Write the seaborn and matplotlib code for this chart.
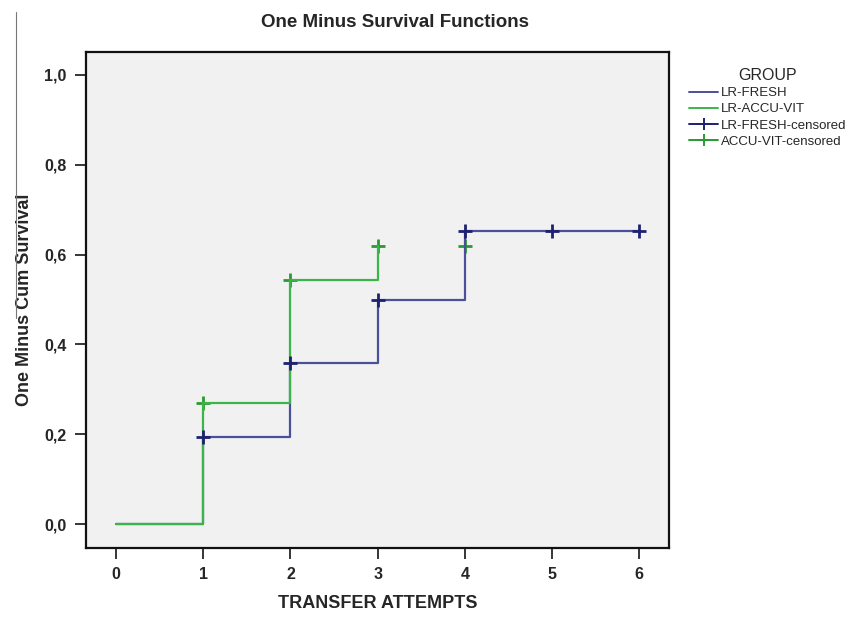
import matplotlib
matplotlib.use("Agg")
import matplotlib.pyplot as plt
from matplotlib.lines import Line2D
import numpy as np
import pandas as pd
import seaborn as sns

# step curves (one minus cumulative survival)
fresh_time = [0, 1, 2, 3, 4, 6]
fresh_value = [0.0, 0.194, 0.359, 0.500, 0.652, 0.652]
accu_time = [0, 1, 2, 3]
accu_value = [0.0, 0.270, 0.543, 0.619]

# censored marks
fresh_cens_time = [1, 2, 3, 4, 5, 6]
fresh_cens_value = [0.194, 0.359, 0.500, 0.652, 0.652, 0.652]
accu_cens_time = [1, 2, 3, 4]
accu_cens_value = [0.270, 0.543, 0.619, 0.619]

group_names = ["LR-FRESH", "LR-ACCU-VIT", "LR-FRESH-censored", "ACCU-VIT-censored"]
x_ticks = [0, 1, 2, 3, 4, 5, 6]
y_ticks = [0.0, 0.2, 0.4, 0.6, 0.8, 1.0]
y_tick_labels = ["0,0", "0,2", "0,4", "0,6", "0,8", "1,0"]

sns.set_style("white")
plt.rcParams['font.family'] = ['Liberation Sans', 'DejaVu Sans']

blue = '#4b4f9c'
blue_mark = '#1d2170'
green = '#3bb54a'
green_mark = '#2a9a30'

curves = pd.concat([
    pd.DataFrame({'time': fresh_time, 'value': fresh_value, 'group': group_names[0]}),
    pd.DataFrame({'time': accu_time, 'value': accu_value, 'group': group_names[1]}),
])
fresh_cens = pd.DataFrame({'time': fresh_cens_time, 'value': fresh_cens_value})
accu_cens = pd.DataFrame({'time': accu_cens_time, 'value': accu_cens_value})

fig = plt.figure(figsize=(8.63, 6.23), dpi=100)
ax = fig.add_axes([0.0997, 0.1204, 0.6755, 0.7961])
ax.set_facecolor('#f1f1f1')

# green censored marks sit under the curves, blue ones on top
sns.scatterplot(data=accu_cens, x='time', y='value', marker='+', s=90, linewidth=2.0,
                color=green_mark, legend=False, ax=ax, zorder=1.5)
sns.lineplot(data=curves, x='time', y='value', hue='group', drawstyle='steps-post',
             estimator=None, palette={group_names[0]: blue, group_names[1]: green},
             linewidth=1.6, legend=False, ax=ax, zorder=2)
sns.scatterplot(data=fresh_cens, x='time', y='value', marker='+', s=90, linewidth=2.0,
                color=blue_mark, legend=False, ax=ax, zorder=3)

ax.set_xlim(-0.344, 6.34)
ax.set_ylim(-0.053, 1.051)
ax.set_xticks(x_ticks)
ax.set_xticklabels([str(t) for t in x_ticks])
ax.set_yticks(y_ticks)
ax.set_yticklabels(y_tick_labels)
ax.tick_params(axis='both', direction='out', length=8, width=1.3, labelsize=11.5,
               left=True, bottom=True, pad=6)
for lab in ax.get_xticklabels() + ax.get_yticklabels():
    lab.set_fontweight('bold')
for side in ['left', 'bottom', 'top', 'right']:
    ax.spines[side].set_visible(True)
    ax.spines[side].set_color('#111111')
    ax.spines[side].set_linewidth(1.6)

ax.set_xlabel('TRANSFER ATTEMPTS', fontsize=13, fontweight='bold', labelpad=9)
ax.set_ylabel('One Minus Cum Survival', fontsize=13, fontweight='bold', labelpad=8)
ax.set_title('One Minus Survival Functions', fontsize=13.5, fontweight='bold', pad=18, x=0.53)

handles = [
    Line2D([], [], color=blue, linewidth=1.4, drawstyle='steps-mid'),
    Line2D([], [], color=green, linewidth=1.4, drawstyle='steps-mid'),
    Line2D([], [], color=blue_mark, linewidth=1.4, marker='+', markersize=9, markeredgewidth=1.4),
    Line2D([], [], color=green_mark, linewidth=1.4, marker='+', markersize=9, markeredgewidth=1.4),
]
leg = fig.legend(handles, group_names, title='GROUP', loc='upper left',
                 bbox_to_anchor=(0.785, 0.91), frameon=False, fontsize=9.5,
                 title_fontsize=11.5, handlelength=2.2, handletextpad=0.2,
                 labelspacing=0.3)
leg._legend_box.align = 'center'

# thin stray line at the left edge of the original scan
fig.add_artist(Line2D([16 / 863, 16 / 863], [1 - 12 / 623, 1 - 318 / 623],
                      transform=fig.transFigure, color='#777777', linewidth=0.8))

fig.savefig('out.png', dpi=100)
